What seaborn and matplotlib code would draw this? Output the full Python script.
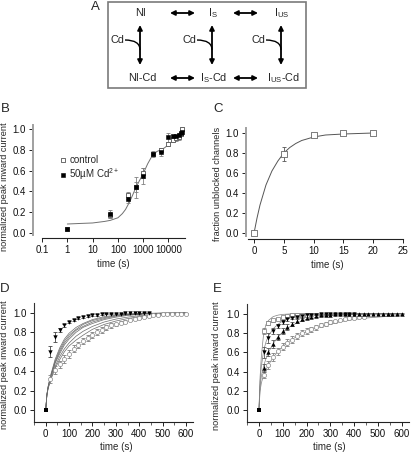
import numpy as np
import matplotlib
matplotlib.use("Agg")
import matplotlib.pyplot as plt
import matplotlib.ticker as mticker
from matplotlib.patches import FancyArrowPatch, PathPatch, Rectangle
from matplotlib.path import Path
import seaborn as sns

# ---------------- panel A: kinetic scheme
state_top = ['NI', 'I$_S$', 'I$_{US}$']
state_bot = ['NI-Cd', 'I$_S$-Cd', 'I$_{US}$-Cd']

# ---------------- panel B: recovery, control vs 50uM Cd (log time)
b_time = [1, 50, 250, 500, 1000, 2500, 5000, 10000, 15000, 20000, 25000, 30000, 35000]
b_ctrl = [0.04, 0.17, 0.36, 0.44, 0.58, 0.76, 0.80, 0.86, 0.90, 0.91, 0.92, 0.95, 1.00]
b_ctrl_err = [0.01, 0.03, 0.03, 0.05, 0.05, 0.02, 0.02, 0.02, 0.02, 0.02, 0.02, 0.02, 0.02]
b_cd = [0.04, 0.18, 0.33, 0.44, 0.55, 0.76, 0.78, 0.92, 0.93, 0.93, 0.94, 0.96, 0.97]
b_cd_err = [0.01, 0.04, 0.04, 0.10, 0.08, 0.03, 0.04, 0.04, 0.01, 0.01, 0.02, 0.02, 0.02]
b_fit_t = [1, 3, 10, 30, 50, 100, 150, 200, 300, 400, 500, 700, 1000, 1500, 2000, 2500,
           3500, 5000, 7000, 10000, 15000, 20000, 25000, 30000, 35000]
b_fit_v = [0.085, 0.09, 0.095, 0.11, 0.12, 0.145, 0.185, 0.225, 0.305, 0.375, 0.43, 0.50,
           0.57, 0.665, 0.72, 0.755, 0.785, 0.80, 0.82, 0.85, 0.89, 0.92, 0.94, 0.955, 0.965]

# ---------------- panel C: fraction unblocked channels
c_time = [0, 5, 10, 15, 20]
c_frac = [0.0, 0.79, 0.98, 1.0, 1.0]
c_err = [0.0, 0.07, 0.01, 0.005, 0.0]
c_fit_t = [0, 0.5, 1, 2, 3, 4, 5, 6, 7, 8, 10, 12, 15, 20]
c_fit_v = [0.0, 0.15, 0.28, 0.48, 0.62, 0.72, 0.80, 0.855, 0.895, 0.925, 0.96, 0.98, 0.99, 1.0]

# ---------------- panel D
d_start_t = [0]
d_start_v = [0.0]
d_tri_t = [20, 40, 60, 80, 100, 120, 140, 160, 180, 200, 220, 240, 260, 280,
           300, 320, 340, 360, 380, 400, 420, 440]
d_tri_v = [0.60, 0.75, 0.82, 0.87, 0.91, 0.93, 0.95, 0.96, 0.97, 0.975, 0.98, 0.985,
           0.99, 0.99, 0.99, 0.99, 0.995, 0.995, 0.995, 0.995, 1.0, 1.0]
d_tri_e = [0.055, 0.05, 0.02, 0.015, 0.01, 0.01, 0.01, 0.01, 0.01, 0.01, 0.01, 0.01,
           0.005, 0.005, 0.005, 0.005, 0.005, 0.005, 0.005, 0.005, 0.005, 0.005]
d_open_t = [20, 40, 60, 80, 100, 120, 140, 160, 180, 200, 220, 240, 260, 280, 300,
            320, 340, 360, 380, 400, 420, 440, 460, 480, 500, 520, 540, 560, 580, 600]
d_open_v = [0.32, 0.41, 0.47, 0.53, 0.58, 0.63, 0.67, 0.71, 0.74, 0.77, 0.80, 0.82,
            0.85, 0.87, 0.88, 0.90, 0.91, 0.93, 0.94, 0.95, 0.96, 0.97, 0.975, 0.98,
            0.985, 0.99, 0.99, 0.99, 0.99, 0.99]
d_open_e = [0.04, 0.04, 0.04, 0.04, 0.04, 0.035, 0.035, 0.035, 0.03, 0.03, 0.03, 0.03,
            0.025, 0.025, 0.02, 0.02, 0.02, 0.015, 0.015, 0.015, 0.01, 0.01, 0.01,
            0.01, 0.005, 0.005, 0.005, 0.005, 0.005, 0.005]
d_fit_t = [0, 5, 10, 20, 40, 60, 80, 100, 130, 160, 200, 250, 300, 350, 400, 450, 500, 550, 600]
d_fit_1 = [0, 0.16, 0.24, 0.35, 0.52, 0.64, 0.73, 0.79, 0.85, 0.89, 0.93, 0.96, 0.975,
           0.985, 0.99, 0.995, 0.997, 0.998, 0.999]
d_fit_2 = [0, 0.16, 0.24, 0.34, 0.50, 0.62, 0.71, 0.77, 0.83, 0.88, 0.92, 0.95, 0.97,
           0.98, 0.99, 0.993, 0.996, 0.998, 0.999]
d_fit_3 = [0, 0.16, 0.23, 0.33, 0.49, 0.60, 0.69, 0.75, 0.82, 0.86, 0.905, 0.94, 0.965,
           0.978, 0.987, 0.992, 0.995, 0.997, 0.998]
d_fit_4 = [0, 0.15, 0.23, 0.33, 0.48, 0.58, 0.67, 0.73, 0.80, 0.85, 0.89, 0.93, 0.955,
           0.972, 0.983, 0.99, 0.994, 0.996, 0.998]
d_fit_5 = [0, 0.15, 0.22, 0.31, 0.45, 0.55, 0.63, 0.69, 0.76, 0.81, 0.86, 0.905, 0.935,
           0.955, 0.97, 0.98, 0.987, 0.992, 0.995]
d_fit_6 = [0, 0.15, 0.22, 0.30, 0.43, 0.52, 0.60, 0.66, 0.72, 0.77, 0.83, 0.88, 0.915,
           0.94, 0.96, 0.972, 0.98, 0.986, 0.99]

# ---------------- panel E
e_start_t = [0]
e_start_v = [0.0]
e_sq_t = [20, 40, 60, 80, 100, 120, 140, 160, 180, 200]
e_sq_v = [0.82, 0.90, 0.93, 0.95, 0.97, 0.98, 0.985, 0.99, 0.99, 0.99]
e_sq_e = [0.03, 0.02, 0.015, 0.01, 0.01, 0.01, 0.005, 0.005, 0.005, 0.005]
e_dn_t = [20, 40, 60, 80, 100, 120, 140, 160, 180, 200, 220, 240, 260, 280, 300,
          320, 340, 360, 380, 400]
e_dn_v = [0.60, 0.75, 0.82, 0.87, 0.91, 0.94, 0.96, 0.97, 0.98, 0.985, 0.99, 0.99,
          0.995, 0.995, 0.995, 1.0, 1.0, 1.0, 1.0, 1.0]
e_dn_e = [0.06, 0.05, 0.03, 0.02, 0.02, 0.015, 0.01, 0.01, 0.01, 0.01, 0.005, 0.005,
          0.005, 0.005, 0.005, 0.005, 0.005, 0.005, 0.005, 0.005]
e_up_t = [20, 40, 60, 80, 100, 120, 140, 160, 180, 200, 220, 240, 260, 280, 300,
          320, 340, 360, 380, 400, 420, 440, 460, 480, 500, 520, 540, 560, 580, 600]
e_up_v = [0.44, 0.60, 0.69, 0.76, 0.82, 0.86, 0.89, 0.92, 0.94, 0.96, 0.97, 0.98,
          0.985, 0.99, 0.99, 0.995, 0.995, 0.995, 1.0, 1.0, 1.0, 1.0, 1.0, 1.0, 1.0,
          1.0, 1.0, 1.0, 1.0, 1.0]
e_up_e = [0.04, 0.04, 0.04, 0.03, 0.03, 0.03, 0.02, 0.02, 0.02, 0.01, 0.01, 0.01,
          0.005, 0.005, 0.005, 0.005, 0.005, 0.005, 0.005, 0.005, 0.005, 0.005,
          0.005, 0.005, 0.005, 0.005, 0.005, 0.005, 0.005, 0.005]
e_circ_t = [20, 40, 60, 80, 100, 120, 140, 160, 180, 200, 220, 240, 260, 280, 300,
            320, 340, 360, 380, 400, 420, 440]
e_circ_v = [0.37, 0.47, 0.55, 0.61, 0.66, 0.70, 0.73, 0.77, 0.80, 0.82, 0.84, 0.86,
            0.88, 0.895, 0.91, 0.92, 0.935, 0.945, 0.955, 0.96, 0.965, 0.97]
e_circ_e = [0.04, 0.04, 0.04, 0.04, 0.04, 0.035, 0.035, 0.03, 0.03, 0.03, 0.025, 0.025,
            0.02, 0.02, 0.02, 0.015, 0.015, 0.015, 0.01, 0.01, 0.01, 0.01]
e_fit_t = [0, 5, 10, 20, 30, 40, 60, 80, 100, 130, 160, 200, 250, 300, 350, 400, 450, 500, 550, 600]
e_fit_1 = [0, 0.35, 0.55, 0.80, 0.89, 0.93, 0.97, 0.985, 0.993, 0.997, 0.999, 1, 1, 1,
           1, 1, 1, 1, 1, 1]
e_fit_2 = [0, 0.30, 0.45, 0.62, 0.71, 0.77, 0.845, 0.89, 0.925, 0.955, 0.972, 0.985,
           0.993, 0.997, 0.998, 0.999, 1, 1, 1, 1]
e_fit_3 = [0, 0.25, 0.35, 0.46, 0.54, 0.60, 0.69, 0.76, 0.81, 0.865, 0.905, 0.94, 0.965,
           0.98, 0.988, 0.993, 0.996, 0.998, 0.999, 1.0]
e_fit_4 = [0, 0.20, 0.28, 0.37, 0.42, 0.47, 0.55, 0.61, 0.66, 0.72, 0.765, 0.815, 0.86,
           0.895, 0.92, 0.94, 0.955, 0.965, 0.973, 0.98]

sns.set_theme(style='ticks')
plt.rcParams['font.family'] = ['Liberation Sans', 'DejaVu Sans']
plt.rcParams['mathtext.default'] = 'regular'

TICK_FS = 7.0
XLABEL_FS = 7.0
YLABEL_FS = 6.6

W, H = 414, 453
fig = plt.figure(figsize=(W / 100, H / 100), dpi=100)


def px_axes(x0, y0, x1, y1):
    return fig.add_axes([x0 / W, 1 - y1 / H, (x1 - x0) / W, (y1 - y0) / H])


def style_axes(ax, left_color):
    sns.despine(ax=ax)
    ax.set_facecolor('none')
    ax.spines['left'].set_color(left_color)
    ax.spines['left'].set_linewidth(1.4 if left_color != '#333333' else 0.8)
    ax.spines['bottom'].set_color('#222222')
    ax.spines['bottom'].set_linewidth(0.8)
    ax.tick_params(which='major', direction='out', length=3, width=0.7,
                   color='#222222', labelsize=TICK_FS, pad=2, labelcolor='#111111')
    ax.tick_params(which='minor', direction='out', length=1.8, width=0.5, color='#222222')
    ax.yaxis.set_major_formatter(mticker.FormatStrFormatter('%.1f'))
    ax.set_yticks([0, 0.2, 0.4, 0.6, 0.8, 1.0])


def ebars(ax, x, y, e, color='#808080'):
    ax.errorbar(x, y, yerr=e, fmt='none', ecolor=color, elinewidth=0.6,
                capsize=1.6, capthick=0.6, zorder=2)


def curve(ax, x, y, color='#666666', lw=0.7):
    sns.lineplot(x=x, y=y, ax=ax, color=color, lw=lw, estimator=None, sort=False, zorder=1)


# ================= A
ax_a = px_axes(108, 2, 306, 88)
ax_a.set_xlim(0, 198)
ax_a.set_ylim(86, 0)
ax_a.axis('off')
ax_a.add_patch(Rectangle((0, 0), 1, 1, transform=ax_a.transAxes, fill=False,
                         ec='#7a7a7a', lw=1.2, clip_on=False))
col_x = [33, 105, 174]
for i, cx in enumerate(col_x):
    ax_a.text(cx, 11, state_top[i], ha='center', va='center', fontsize=7.8)
    ax_a.text(cx + 1, 76, state_bot[i], ha='center', va='center', fontsize=7.8)
    ax_a.add_patch(FancyArrowPatch((cx - 1, 23), (cx - 1, 63), arrowstyle='<|-|>',
                                   mutation_scale=7, lw=1.3, color='black',
                                   shrinkA=0, shrinkB=0))
    ax_a.text(cx - 24, 38, 'Cd', ha='center', va='center', fontsize=7.8)
    hook = Path([(cx - 16, 38), (cx - 1, 38), (cx - 1, 48)],
                [Path.MOVETO, Path.CURVE3, Path.CURVE3])
    ax_a.add_patch(PathPatch(hook, fc='none', ec='black', lw=1.0))
for x0, x1 in [(62, 87), (125, 150)]:
    for y in (11, 76):
        ax_a.add_patch(FancyArrowPatch((x0, y), (x1, y), arrowstyle='<|-|>',
                                       mutation_scale=7, lw=1.3, color='black',
                                       shrinkA=0, shrinkB=0))

# ================= B
ax_b = px_axes(33, 125, 185, 238)
ax_b.set_xscale('log')
curve(ax_b, b_fit_t, b_fit_v, color='#707070')
ebars(ax_b, b_time, b_ctrl, b_ctrl_err)
ebars(ax_b, b_time, b_cd, b_cd_err)
sns.scatterplot(x=b_time, y=b_ctrl, ax=ax_b, marker='s', s=12, facecolor='white',
                edgecolor='#555555', linewidth=0.6, zorder=3, label='control')
sns.scatterplot(x=b_time, y=b_cd, ax=ax_b, marker='s', s=12, facecolor='black',
                edgecolor='black', linewidth=0.4, zorder=4, label='50\u00b5M Cd$^{2+}$')
ax_b.set_xlim(0.044, 45000)
ax_b.set_ylim(-0.05, 1.04)
style_axes(ax_b, '#a0a0a0')
ax_b.spines['bottom'].set_bounds(0.1, 45000)
ax_b.spines['left'].set_bounds(-0.02, 1.04)
ax_b.set_xticks([0.1, 1, 10, 100, 1000, 10000])
ax_b.set_xticklabels(['0.1', '1', '10', '100', '1000', '10000'])
ax_b.xaxis.set_minor_locator(mticker.LogLocator(base=10, subs=np.arange(2, 10)))
ax_b.xaxis.set_minor_formatter(mticker.NullFormatter())
ax_b.set_xlabel('time (s)', fontsize=XLABEL_FS)
ax_b.set_ylabel('normalized peak inward current', fontsize=YLABEL_FS)
ax_b.xaxis.set_label_coords(0.526, -0.19)
ax_b.yaxis.set_label_coords(-0.158, 0.45)
ax_b.legend(loc='upper left', bbox_to_anchor=(0.13, 0.78), frameon=False, fontsize=7,
            handletextpad=0.0, borderpad=0, labelspacing=0.15, markerscale=1.0,
            handlelength=1.2)

# ================= C
ax_c = px_axes(246, 128, 403, 239)
curve(ax_c, c_fit_t, c_fit_v, color='#555555')
ebars(ax_c, c_time, c_frac, c_err, color='#555555')
sns.scatterplot(x=c_time, y=c_frac, ax=ax_c, marker='s', s=20, facecolor='white',
                edgecolor='#666666', linewidth=0.6, zorder=3)
ax_c.set_xlim(-1.35, 25)
ax_c.set_ylim(-0.06, 1.05)
style_axes(ax_c, '#a0a0a0')
ax_c.spines['bottom'].set_bounds(-1, 25)
ax_c.spines['left'].set_bounds(-0.03, 1.05)
ax_c.set_xticks([0, 5, 10, 15, 20, 25])
ax_c.set_xlabel('time (s)', fontsize=XLABEL_FS)
ax_c.set_ylabel('fraction unblocked channels', fontsize=YLABEL_FS)
ax_c.xaxis.set_label_coords(0.52, -0.19)
ax_c.yaxis.set_label_coords(-0.153, 0.5)

# ================= D
ax_d = px_axes(34, 303, 193, 422)
for fit in [d_fit_1, d_fit_2, d_fit_3, d_fit_4, d_fit_5, d_fit_6]:
    curve(ax_d, d_fit_t, fit, color='#6a6a6a', lw=0.5)
ebars(ax_d, d_open_t, d_open_v, d_open_e)
ebars(ax_d, d_tri_t, d_tri_v, d_tri_e, color='#444444')
sns.scatterplot(x=d_open_t, y=d_open_v, ax=ax_d, marker='o', s=9, facecolor='white',
                edgecolor='#888888', linewidth=0.5, zorder=3)
sns.scatterplot(x=d_tri_t, y=d_tri_v, ax=ax_d, marker='v', s=10, color='black',
                linewidth=0, zorder=4)
sns.scatterplot(x=d_start_t, y=d_start_v, ax=ax_d, marker='s', s=9, color='black',
                linewidth=0, zorder=4)

# ================= E
ax_e = px_axes(247, 304, 409, 422)
for fit in [e_fit_1, e_fit_2, e_fit_3, e_fit_4]:
    curve(ax_e, e_fit_t, fit, color='#808080', lw=0.5)
ebars(ax_e, e_circ_t, e_circ_v, e_circ_e)
ebars(ax_e, e_up_t, e_up_v, e_up_e, color='#555555')
ebars(ax_e, e_dn_t, e_dn_v, e_dn_e, color='#555555')
ebars(ax_e, e_sq_t, e_sq_v, e_sq_e)
sns.scatterplot(x=e_circ_t, y=e_circ_v, ax=ax_e, marker='o', s=9, facecolor='white',
                edgecolor='#888888', linewidth=0.5, zorder=3)
sns.scatterplot(x=e_sq_t, y=e_sq_v, ax=ax_e, marker='s', s=9, facecolor='white',
                edgecolor='#777777', linewidth=0.5, zorder=3)
sns.scatterplot(x=e_up_t, y=e_up_v, ax=ax_e, marker='^', s=10, color='black',
                linewidth=0, zorder=4)
sns.scatterplot(x=e_dn_t, y=e_dn_v, ax=ax_e, marker='v', s=10, color='black',
                linewidth=0, zorder=4)
sns.scatterplot(x=e_start_t, y=e_start_v, ax=ax_e, marker='s', s=9, color='black',
                linewidth=0, zorder=4)

for ax in (ax_d, ax_e):
    ax.set_xlim(-50, 630)
    ax.set_ylim(-0.12, 1.1)
    style_axes(ax, '#333333')
    ax.set_xticks([0, 100, 200, 300, 400, 500, 600])
    ax.xaxis.set_minor_locator(mticker.MultipleLocator(50))
    ax.set_xlabel('time (s)', fontsize=XLABEL_FS)
    ax.set_ylabel('normalized peak inward current', fontsize=YLABEL_FS)
    ax.xaxis.set_label_coords(0.515, -0.17)
    ax.yaxis.set_label_coords(-0.157, 0.48)
ax_e.xaxis.set_label_coords(0.51, -0.17)
ax_e.yaxis.set_label_coords(-0.16, 0.48)

# panel letters
for letter, (x, y) in zip('ABCDE', [(95, 7), (5, 109), (218, 109), (5, 289), (217, 289)]):
    fig.text(x / W, 1 - y / H, letter, ha='center', va='center', fontsize=9.5)

fig.savefig('out.png', dpi=100, facecolor='white')
